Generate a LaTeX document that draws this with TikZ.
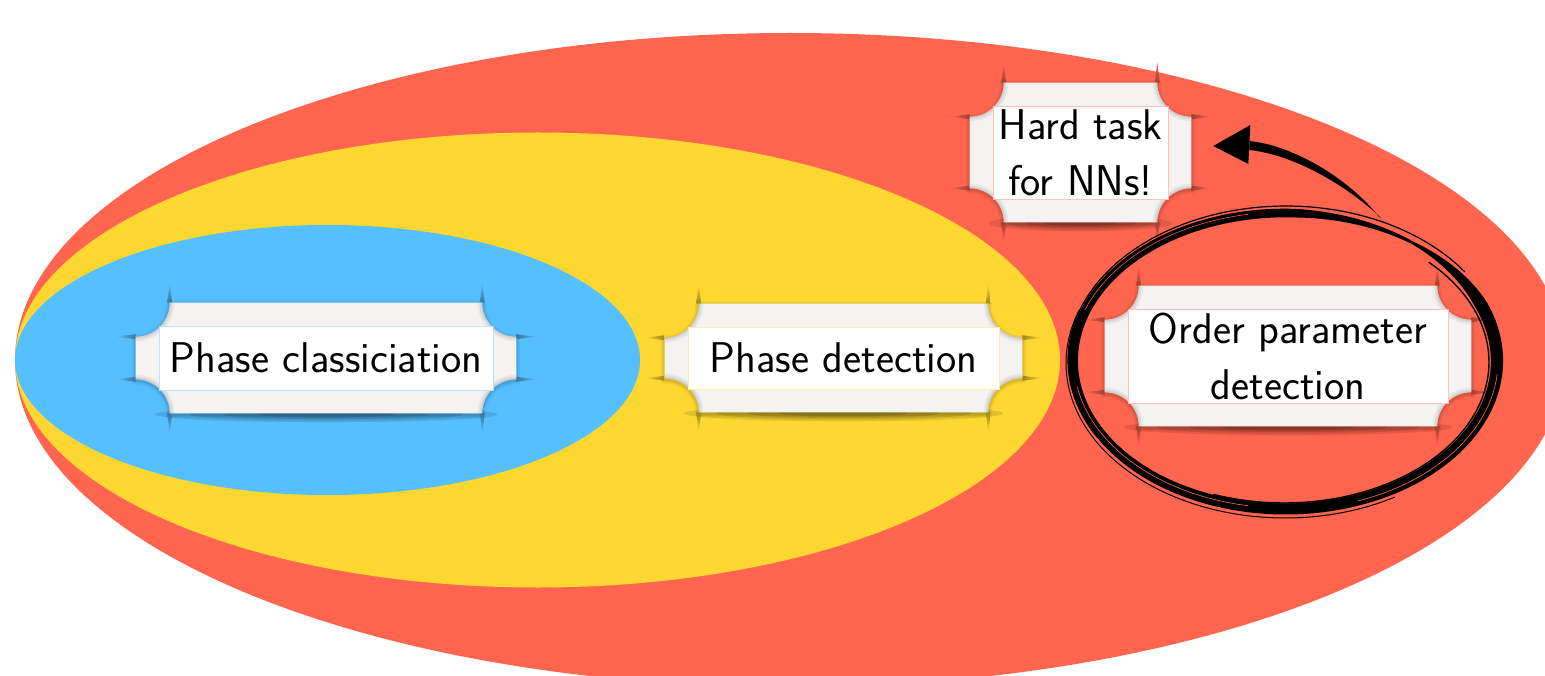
\documentclass[tikz,border=0pt]{standalone}
\usetikzlibrary{calc,backgrounds}
\definecolor{redbg}{HTML}{FF654F}
\definecolor{yellowbg}{HTML}{FED831}
\definecolor{bluebg}{HTML}{55BFFF}
\definecolor{paper}{HTML}{F4F3F1}
% frame geometry: margin around the white card, radius of the concave corners
\def\tkm{23pt}
\def\tkr{34pt}
\def\tkk{18.8pt}
\def\tklen{20pt}
\def\tkb{2.5pt}
% outline of the paper frame with concave corners around node #1, lowered by #2
\newcommand\tkshape[2]{let \p1=(#1.north west), \p2=(#1.south east) in
 ({\x1-\tkm+\tkr},{\y1+\tkm-#2}) -- ({\x2+\tkm-\tkr},{\y1+\tkm-#2})
 .. controls ({\x2+\tkm-\tkr},{\y1+\tkm-#2-\tkk}) and ({\x2+\tkm-\tkk},{\y1+\tkm-#2-\tkr}) .. ({\x2+\tkm},{\y1+\tkm-#2-\tkr})
 -- ({\x2+\tkm},{\y2-\tkm-#2+\tkr})
 .. controls ({\x2+\tkm-\tkk},{\y2-\tkm-#2+\tkr}) and ({\x2+\tkm-\tkr},{\y2-\tkm-#2+\tkk}) .. ({\x2+\tkm-\tkr},{\y2-\tkm-#2})
 -- ({\x1-\tkm+\tkr},{\y2-\tkm-#2})
 .. controls ({\x1-\tkm+\tkr},{\y2-\tkm-#2+\tkk}) and ({\x1-\tkm+\tkk},{\y2-\tkm-#2+\tkr}) .. ({\x1-\tkm},{\y2-\tkm-#2+\tkr})
 -- ({\x1-\tkm},{\y1+\tkm-#2-\tkr})
 .. controls ({\x1-\tkm+\tkk},{\y1+\tkm-#2-\tkr}) and ({\x1-\tkm+\tkr},{\y1+\tkm-#2-\tkk}) .. cycle}
% paper frame with its shadows, behind node #1 lying on colour #2
\newcommand\ticket[2]{%
 % soft halo and drop shadow under the bottom edge
 \foreach \lw in {7pt,4pt,2pt}{%
  \draw[black, opacity=0.05, line width=\lw] \tkshape{#1}{1.5pt};}
 \foreach \s in {1.0,0.8,0.6,0.4}{%
  \fill[black, opacity=0.11] let \p1=(#1.south west), \p2=(#1.south east) in
   ({(\x1+\x2)/2},{\y1-\tkm-1pt}) ellipse [x radius={\s*((\x2-\x1)/2+4pt)}, y radius={\s*8pt}];}
 % dark spikes continuing the concave arcs at the eight cusps
 \shade[top color=#2, bottom color=#2!62!black] let \p1=(#1.north west), \p2=(#1.south east) in
  ({\x1-\tkm+\tkr-\tkb},{\y1+\tkm}) -- ({\x1-\tkm+\tkr+\tkb},{\y1+\tkm}) -- ({\x1-\tkm+\tkr},{\y1+\tkm+\tklen}) -- cycle
  ({\x2+\tkm-\tkr-\tkb},{\y1+\tkm}) -- ({\x2+\tkm-\tkr+\tkb},{\y1+\tkm}) -- ({\x2+\tkm-\tkr},{\y1+\tkm+\tklen}) -- cycle;
 \shade[bottom color=#2, top color=#2!62!black] let \p1=(#1.north west), \p2=(#1.south east) in
  ({\x1-\tkm+\tkr-\tkb},{\y2-\tkm}) -- ({\x1-\tkm+\tkr+\tkb},{\y2-\tkm}) -- ({\x1-\tkm+\tkr},{\y2-\tkm-\tklen}) -- cycle
  ({\x2+\tkm-\tkr-\tkb},{\y2-\tkm}) -- ({\x2+\tkm-\tkr+\tkb},{\y2-\tkm}) -- ({\x2+\tkm-\tkr},{\y2-\tkm-\tklen}) -- cycle;
 \shade[left color=#2, right color=#2!62!black] let \p1=(#1.north west), \p2=(#1.south east) in
  ({\x1-\tkm},{\y1+\tkm-\tkr+\tkb}) -- ({\x1-\tkm},{\y1+\tkm-\tkr-\tkb}) -- ({\x1-\tkm-\tklen},{\y1+\tkm-\tkr}) -- cycle
  ({\x1-\tkm},{\y2-\tkm+\tkr+\tkb}) -- ({\x1-\tkm},{\y2-\tkm+\tkr-\tkb}) -- ({\x1-\tkm-\tklen},{\y2-\tkm+\tkr}) -- cycle;
 \shade[right color=#2, left color=#2!62!black] let \p1=(#1.north west), \p2=(#1.south east) in
  ({\x2+\tkm},{\y1+\tkm-\tkr+\tkb}) -- ({\x2+\tkm},{\y1+\tkm-\tkr-\tkb}) -- ({\x2+\tkm+\tklen},{\y1+\tkm-\tkr}) -- cycle
  ({\x2+\tkm},{\y2-\tkm+\tkr+\tkb}) -- ({\x2+\tkm},{\y2-\tkm+\tkr-\tkb}) -- ({\x2+\tkm+\tklen},{\y2-\tkm+\tkr}) -- cycle;
 % the paper itself, slightly shaded along the concave cuts
 \fill[paper] \tkshape{#1}{0pt};
 \begin{scope}
  \clip \tkshape{#1}{0pt};
  \foreach \lw in {9pt,5pt,2.5pt}{%
   \draw[black, opacity=0.05, line width=\lw] let \p1=(#1.north west), \p2=(#1.south east) in
    ({\x1-\tkm},{\y1+\tkm}) circle [radius=\tkr] ({\x2+\tkm},{\y1+\tkm}) circle [radius=\tkr]
    ({\x1-\tkm},{\y2-\tkm}) circle [radius=\tkr] ({\x2+\tkm},{\y2-\tkm}) circle [radius=\tkr];}
 \end{scope}}
% half width of the brush loop at parameter angle \t
\def\bw{(0.5+0.5*min(1,(\t+58)/35)*min(1,(318-\t)/45)*(12-5*(\t+58)/376))}
\begin{document}
\begin{tikzpicture}[x=1pt, y=-1pt,
  card/.style={draw=#1!40, fill=white, line width=0.6pt, inner sep=0pt, align=center,
    font=\sffamily\fontsize{43}{56}\selectfont},
  brush/.style={black, line cap=round}]
\useasboundingbox (0,0) rectangle (1545,676);

% the four task cards
\node[card=bluebg, minimum width=334pt, minimum height=64pt] (cls) at (326,358) {Phase classiciation};
\node[card=yellowbg, minimum width=311pt, minimum height=62pt] (det) at (843.5,358) {Phase detection};
\node[card=redbg, minimum width=175pt, minimum height=93pt] (hard) at (1080.5,152.5) {Hard task\\for NNs!};
\node[card=redbg, minimum width=320pt, minimum height=94pt] (ord) at (1288,356) {Order parameter\\detection};

\begin{scope}[on background layer]
 % nested regions
 \fill[redbg] (790,360) ellipse [x radius=775pt, y radius=327pt];
 \fill[yellowbg] (537.5,360) ellipse [x radius=522.5pt, y radius=227.5pt];
 \fill[bluebg] (327.5,360) ellipse [x radius=312.5pt, y radius=135pt];
 % paper frames
 \ticket{cls}{bluebg}
 \ticket{det}{yellowbg}
 \ticket{hard}{redbg}
 \ticket{ord}{redbg}
\end{scope}

% brush loop around the order-parameter card
\fill[black] plot[domain=-58:318, samples=180, variable=\t]
  ({1285+(212+\bw)*cos(\t)}, {361+(148+\bw)*sin(\t)})
  -- plot[domain=318:-58, samples=180, variable=\t]
  ({1285+(212-\bw)*cos(\t)}, {361+(148-\bw)*sin(\t)})
  -- cycle;
\draw[brush, line width=1.2pt] plot[domain=150:325, samples=80, variable=\t]
  ({1286+218*cos(\t)}, {360+154*sin(\t)});
\draw[brush, line width=1.4pt] plot[domain=-45:110, samples=80, variable=\t]
  ({1284+205*cos(\t)}, {362+141*sin(\t)});
\draw[brush, line width=1pt] plot[domain=60:200, samples=80, variable=\t]
  ({1285+219*cos(\t)}, {363+155*sin(\t)});
\draw[brush, line width=0.8pt, dash pattern=on 9pt off 4pt on 3pt off 5pt] plot[domain=255:335, samples=40, variable=\t]
  ({1286+209*cos(\t)}, {358+146*sin(\t)});
\draw[redbg, line width=0.6pt] plot[domain=5:70, samples=40, variable=\t]
  ({1285+213*cos(\t)}, {361+149*sin(\t)});
\draw[redbg, line width=0.6pt] plot[domain=100:170, samples=40, variable=\t]
  ({1285+211*cos(\t)}, {361+147*sin(\t)});
\draw[redbg, line width=0.5pt] plot[domain=200:260, samples=40, variable=\t]
  ({1285+213*cos(\t)}, {361+149*sin(\t)});

% arrow from the loop to the hard-task card
\coordinate (tail) at (1379,217);
\coordinate (tip) at ($(hard.east)+(45,-6.5)$);
\fill[black] (tail) .. controls (1352,182) and (1297,146) .. ($(tip)+(36,-5)$)
  -- ($(tip)+(36,4)$) .. controls (1297,155) and (1351,189) .. ($(tail)+(2,1)$) -- cycle;
\fill[black] (tip) -- ($(tip)+(37,-21)$) -- ($(tip)+(35,18)$) -- cycle;
\end{tikzpicture}
\end{document}
